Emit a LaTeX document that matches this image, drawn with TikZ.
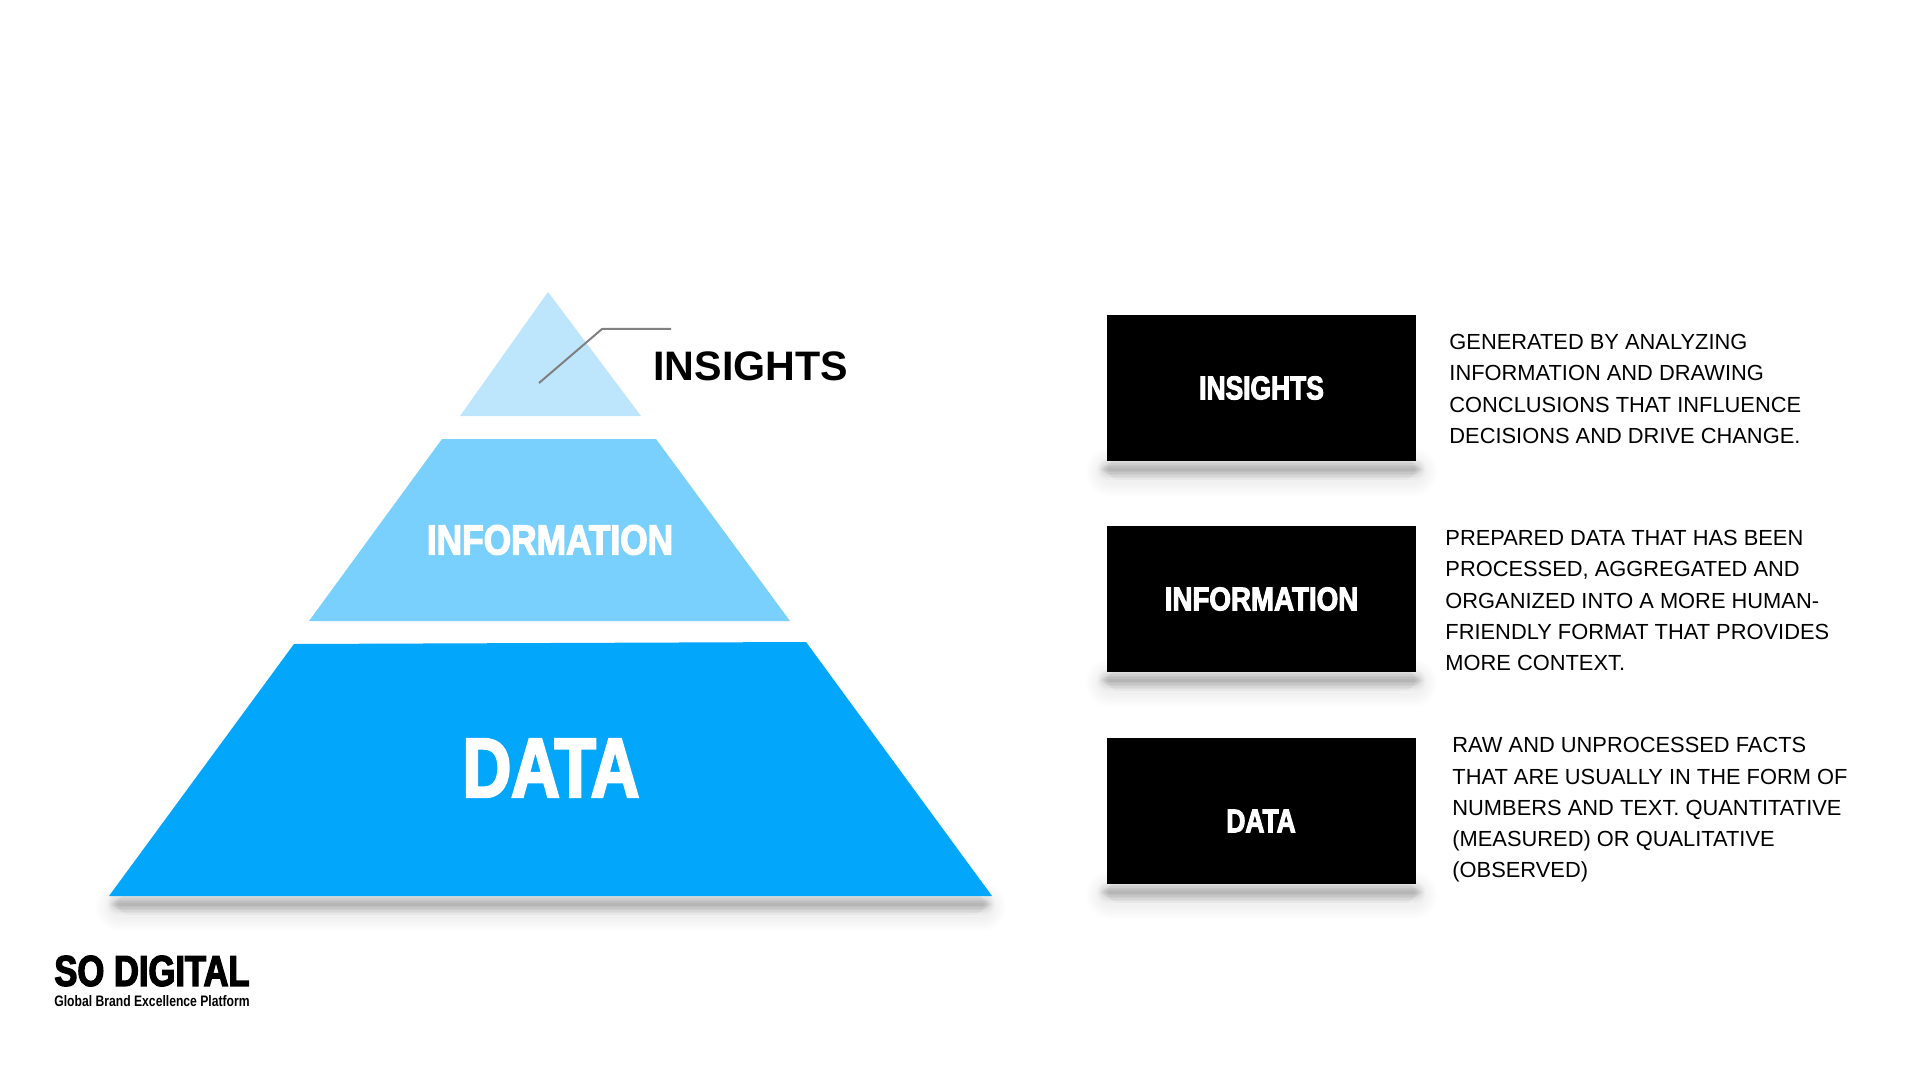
\documentclass[tikz,border=0pt]{standalone}
\usepackage{fontspec}
\setmainfont{Liberation Sans}
\newfontfamily\heavyfont[FakeStretch=0.8,FakeBold=3]{Liberation Sans}
\newfontfamily\heavywide[FakeStretch=0.84,FakeBold=3]{Liberation Sans}
\newfontfamily\tagfont[FakeStretch=0.8]{Liberation Sans}
\usetikzlibrary{positioning}
\definecolor{layertop}{HTML}{BDE6FC}
\definecolor{layermid}{HTML}{79D0FD}
\definecolor{layerlow}{HTML}{02A6FB}
\tikzset{
    heavy/.style={font=\heavyfont\bfseries\fontsize{#1}{#1}\selectfont},
    heavyw/.style={font=\heavywide\bfseries\fontsize{#1}{#1}\selectfont},
    boxlabel/.style={draw=none, fill=black, text=white, minimum width=309*0.5pt, minimum height=146*0.5pt, inner sep=0pt},
    desc/.style={anchor=west, align=left, inner sep=0pt, font=\fontsize{10.93}{15.65}\selectfont},
    softshadow/.style={line cap=round, black, opacity=#1}
}
% shadow strip under a shape
\newcommand{\shadowstrip}[3]{
    \foreach \w in {24,28,...,48} {
        \draw[softshadow=0.007, line width=\w*0.5pt] (#1+4,#3+3) -- (#2-4,#3+3);
    }
    \foreach \w in {3,6,...,21} {
        \draw[softshadow=0.018, line width=\w*0.5pt] (#1-8+\w,#3) -- (#2+8-\w,#3);
        \draw[softshadow=0.018, line width=\w*0.5pt] (#1+2,#3) -- (#2-2,#3);
    }
}
\begin{document}
\begin{tikzpicture}[x=0.5pt,y=-0.5pt]
    \useasboundingbox (0,0) rectangle (1920,1080);

    % shadows
    \shadowstrip{116}{986}{904}
    \shadowstrip{1106}{1417}{469}
    \shadowstrip{1106}{1417}{680}
    \shadowstrip{1106}{1417}{892}

    % pyramid
    \fill[layertop] (548,292) -- (641,416) -- (460,416) -- cycle;
    \fill[layermid] (442,439) -- (656,439) -- (790,621) -- (309,621) -- cycle;
    \fill[layerlow] (294,644) -- (806,642) -- (992,896) -- (109,896) -- cycle;
    \node[heavyw=21, text=white, inner sep=0pt] (info) at (550,540) {INFORMATION};
    \node[heavy=42, text=white, inner sep=0pt] (data) at (551,768) {DATA};

    % callout
    \node[anchor=west, inner sep=0pt, font=\bfseries\fontsize{20.6}{20.6}\selectfont] (insights) at (653,366) {INSIGHTS};
    \coordinate (tip) at (539,383);
    \coordinate (knee) at (602,329);
    \coordinate (end) at (671,329);
    \draw[black!50, line width=1pt] (tip) -- (knee) -- (end);

    % black boxes
    \node[boxlabel, heavy=16.5] (b1) at (1261.5,388) {INSIGHTS};
    \node[boxlabel, heavyw=16.5] (b2) at (1261.5,599) {INFORMATION};
    \node[boxlabel, heavy=16.5] (b3) at (1261.5,811) {};
    \node[heavy=16.5, text=white, inner sep=0pt] (b3label) at (1261,821) {DATA};

    % descriptions
    \node[desc] (d1) at (1449,389) {GENERATED BY ANALYZING\\INFORMATION AND DRAWING\\CONCLUSIONS THAT INFLUENCE\\DECISIONS AND DRIVE CHANGE.};
    \node[desc] (d2) at (1445,600.5) {PREPARED DATA THAT HAS BEEN\\PROCESSED, AGGREGATED AND\\ORGANIZED INTO A MORE HUMAN-\\FRIENDLY FORMAT THAT PROVIDES\\MORE CONTEXT.};
    \node[desc] (d3) at (1452,810) {RAW AND UNPROCESSED FACTS\\THAT ARE USUALLY IN THE FORM OF\\NUMBERS AND TEXT. QUANTITATIVE\\(MEASURED) OR QUALITATIVE\\(OBSERVED)};

    % logo
    \node[heavy=21.6, anchor=west, inner sep=0pt] (logo) at (54,971) {SO DIGITAL};
    \node[font=\tagfont\bfseries\fontsize{7.6}{7.6}\selectfont, inner sep=0pt, below=4pt of logo.south west, anchor=north west] (tag) {Global Brand Excellence Platform};
\end{tikzpicture}
\end{document}
